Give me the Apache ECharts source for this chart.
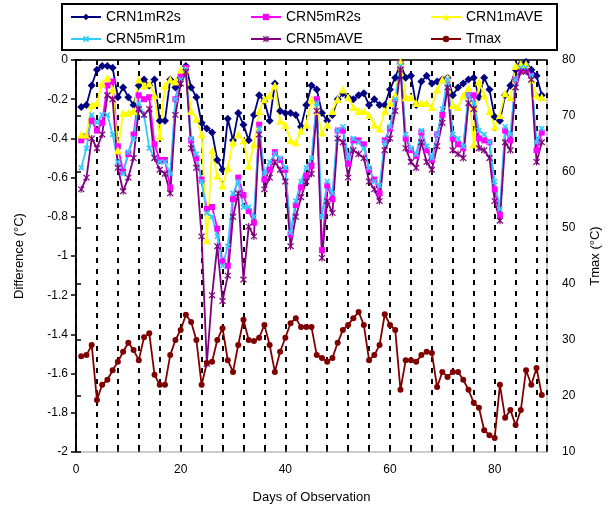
<!DOCTYPE html>
<html><head><meta charset="utf-8">
<script src="https://cdn.jsdelivr.net/npm/echarts@6/dist/echarts.min.js"></script>
<style>html,body{margin:0;padding:0;background:#fff}#c{width:610px;height:514px}</style>
</head><body><div id="c"></div>
<script>
var days = [1,2,3,4,5,6,7,8,9,10,11,12,13,14,15,16,17,18,19,20,21,22,23,24,25,26,27,28,29,30,31,32,33,34,35,36,37,38,39,40,41,42,43,44,45,46,47,48,49,50,51,52,53,54,55,56,57,58,59,60,61,62,63,64,65,66,67,68,69,70,71,72,73,74,75,76,77,78,79,80,81,82,83,84,85,86,87,88,89];
var crn1mR2s = [-0.24,-0.23,-0.13,-0.05,-0.03,-0.03,-0.04,-0.19,-0.14,-0.19,-0.23,-0.13,-0.10,-0.13,-0.10,-0.31,-0.31,-0.10,-0.14,-0.09,-0.03,-0.14,-0.19,-0.32,-0.35,-0.37,-0.51,-0.56,-0.30,-0.41,-0.27,-0.33,-0.41,-0.28,-0.18,-0.21,-0.31,-0.12,-0.26,-0.27,-0.27,-0.28,-0.34,-0.23,-0.13,-0.15,-0.27,-0.31,-0.28,-0.20,-0.17,-0.19,-0.20,-0.18,-0.17,-0.23,-0.20,-0.23,-0.23,-0.15,-0.09,-0.02,-0.09,-0.08,-0.23,-0.11,-0.08,-0.12,-0.11,-0.10,-0.09,-0.18,-0.14,-0.12,-0.10,-0.09,-0.19,-0.09,-0.15,-0.29,-0.31,-0.18,-0.13,-0.05,-0.02,-0.01,-0.05,-0.08,-0.18];
var crn5mR2s = [-0.41,-0.39,-0.31,-0.36,-0.32,-0.13,-0.11,-0.44,-0.57,-0.48,-0.38,-0.18,-0.20,-0.19,-0.43,-0.51,-0.51,-0.65,-0.20,-0.08,-0.04,-0.41,-0.50,-0.61,-0.76,-0.75,-0.86,-1.03,-1.05,-0.71,-0.60,-0.69,-0.77,-0.83,-0.33,-0.61,-0.56,-0.47,-0.51,-0.56,-0.89,-0.74,-0.65,-0.59,-0.54,-0.20,-0.97,-0.64,-0.71,-0.36,-0.36,-0.53,-0.41,-0.41,-0.43,-0.56,-0.61,-0.68,-0.41,-0.35,-0.20,-0.02,-0.40,-0.46,-0.49,-0.37,-0.46,-0.51,-0.38,-0.28,-0.10,-0.40,-0.43,-0.45,-0.18,-0.18,-0.40,-0.41,-0.42,-0.66,-0.79,-0.36,-0.41,-0.10,-0.05,-0.05,-0.08,-0.46,-0.37];
var crn1mAVE = [-0.38,-0.38,-0.23,-0.22,-0.12,-0.09,-0.15,-0.46,-0.27,-0.27,-0.26,-0.10,-0.13,-0.12,-0.18,-0.39,-0.13,-0.10,-0.11,-0.05,-0.05,-0.26,-0.30,-0.38,-0.92,-0.46,-0.59,-0.64,-0.55,-0.42,-0.38,-0.41,-0.54,-0.43,-0.26,-0.20,-0.18,-0.13,-0.31,-0.33,-0.41,-0.42,-0.36,-0.33,-0.20,-0.26,-0.37,-0.33,-0.26,-0.20,-0.15,-0.19,-0.24,-0.26,-0.26,-0.28,-0.33,-0.35,-0.26,-0.22,-0.18,-0.01,-0.19,-0.19,-0.22,-0.22,-0.22,-0.24,-0.15,-0.10,-0.09,-0.23,-0.24,-0.18,-0.14,-0.43,-0.11,-0.18,-0.26,-0.34,-0.28,-0.17,-0.19,-0.03,-0.02,-0.02,-0.10,-0.18,-0.19];
var crn5mR1m = [-0.55,-0.45,-0.28,-0.32,-0.28,-0.28,-0.38,-0.52,-0.58,-0.47,-0.40,-0.22,-0.28,-0.45,-0.50,-0.52,-0.52,-0.58,-0.20,-0.10,-0.05,-0.40,-0.48,-0.62,-0.78,-0.80,-0.90,-1.05,-0.95,-0.68,-0.62,-0.75,-0.75,-0.80,-0.35,-0.58,-0.52,-0.48,-0.50,-0.55,-0.88,-0.72,-0.62,-0.55,-0.50,-0.22,-0.80,-0.62,-0.68,-0.36,-0.34,-0.50,-0.40,-0.42,-0.45,-0.55,-0.62,-0.64,-0.42,-0.34,-0.20,-0.03,-0.38,-0.45,-0.48,-0.36,-0.44,-0.50,-0.38,-0.25,-0.10,-0.38,-0.40,-0.44,-0.18,-0.22,-0.36,-0.38,-0.42,-0.62,-0.76,-0.34,-0.38,-0.10,-0.04,-0.04,-0.08,-0.42,-0.35];
var crn5mAVE = [-0.66,-0.60,-0.40,-0.45,-0.38,-0.18,-0.20,-0.55,-0.67,-0.60,-0.50,-0.25,-0.28,-0.25,-0.50,-0.56,-0.58,-0.68,-0.28,-0.12,-0.06,-0.45,-0.55,-0.90,-1.55,-1.20,-0.95,-1.23,-1.10,-0.80,-0.68,-1.12,-0.85,-0.90,-0.38,-0.66,-0.60,-0.52,-0.56,-0.62,-0.95,-0.80,-0.70,-0.62,-0.58,-0.26,-1.01,-0.72,-0.78,-0.40,-0.42,-0.60,-0.46,-0.48,-0.50,-0.62,-0.66,-0.72,-0.46,-0.40,-0.26,-0.05,-0.45,-0.52,-0.55,-0.42,-0.52,-0.56,-0.44,-0.32,-0.14,-0.46,-0.48,-0.50,-0.22,-0.25,-0.45,-0.46,-0.50,-0.72,-0.82,-0.42,-0.46,-0.14,-0.06,-0.06,-0.10,-0.52,-0.42];
var tmax = [27.1,27.3,29.1,19.3,22.0,22.9,24.6,26.1,27.9,29.5,28.2,26.4,30.5,31.2,23.8,22.0,22.0,27.3,30.0,31.8,34.5,33.2,30.0,22.0,25.9,26.1,30.0,32.1,26.4,24.3,29.1,33.6,30.0,29.8,30.4,32.7,29.1,24.3,27.9,30.4,33.0,33.9,32.3,32.3,32.3,27.3,26.8,26.1,26.8,29.5,31.8,32.7,33.9,35.0,32.7,26.4,27.3,29.1,34.6,32.7,31.8,21.1,26.4,26.4,26.1,27.3,27.9,27.7,21.6,24.3,23.4,24.3,24.3,22.9,21.1,18.8,17.9,13.9,13.0,12.5,22.0,16.1,17.5,14.8,17.5,24.6,22.0,25.0,20.2];
var names = ['CRN1mR2s','CRN5mR2s','CRN1mAVE','CRN5mR1m','CRN5mAVE','Tmax'];
var xTicks = [0,20,40,60,80];

function pairs(arr){ return days.map(function(d,i){ return [d, arr[i]]; }); }
var xShape = 'path://M0,2L2,0L5,3L8,0L10,2L7,5L10,8L8,10L5,7L2,10L0,8L3,5Z';
var starShape = 'path://M4.2,0H5.8V10H4.2Z M0,1.6L1.4,0.4L5,4L8.6,0.4L10,1.6L6.2,5L10,8.4L8.6,9.6L5,6L1.4,9.6L0,8.4L3.8,5Z';
function ser(name, data, color, symbol, size, yi){
  return {name:name, type:'line', data:pairs(data), xAxisIndex:0, yAxisIndex:yi||0,
    symbol:symbol, symbolSize:size, lineStyle:{color:color, width:1.8},
    itemStyle:{color:color}, animation:false, z:2};
}
var chart = echarts.init(document.getElementById('c'), null, {renderer:'canvas'});
var legPos = [[70,10],[250,10],[430,10],[70,32],[250,32],[430,32]];
var legends = names.map(function(n,i){
  return {data:[n], left:legPos[i][0], top:legPos[i][1], padding:0, itemWidth:30, itemHeight:8, itemGap:5,
    textStyle:{fontFamily:'Liberation Sans, Arial', fontSize:14, color:'#000'}, selectedMode:false};
});
var ff = 'Liberation Sans, Arial';
chart.setOption({
  backgroundColor:'#fff',
  animation:false,
  legend: legends,
  graphic:[{type:'rect', shape:{x:62,y:4,width:495,height:46}, style:{fill:'none', stroke:'#000', lineWidth:2}, z:100}],
  grid:{left:76, right:61, top:60, bottom:62, show:true, borderColor:'#999', borderWidth:1},
  xAxis:[
    {type:'value', min:0, max:90, interval:20, position:'bottom',
     axisLine:{lineStyle:{color:'#000', width:1.5}},
     axisTick:{show:true, inside:false, length:5, lineStyle:{color:'#000', width:1.5}},
     axisLabel:{margin:12, fontFamily:ff, fontSize:12, color:'#000', formatter:function(v){ return xTicks.indexOf(v)>=0 ? String(v) : ''; }},
     splitLine:{show:false},
     name:'Days of Observation', nameLocation:'middle', nameGap:39, nameTextStyle:{fontFamily:ff, fontSize:13, color:'#000'}},
    {type:'value', min:0, max:90, interval:4, position:'bottom',
     axisLine:{show:false},
     axisTick:{show:true, inside:true, length:5, lineStyle:{color:'#000', width:1.5}},
     axisLabel:{show:false},
     splitLine:{show:true, lineStyle:{color:'#000', width:2, type:[5,6]}}}
  ],
  yAxis:[
    {type:'value', min:-2, max:0, interval:0.2, position:'left',
     axisLine:{show:true, lineStyle:{color:'#000', width:1.5}},
     axisTick:{show:true, inside:false, length:5, lineStyle:{color:'#000', width:1.5}},
     axisLabel:{margin:8, fontFamily:ff, fontSize:12, color:'#000'},
     splitLine:{show:false},
     name:'Difference (\u00B0C)', nameLocation:'middle', nameGap:50, nameTextStyle:{fontFamily:ff, fontSize:13, color:'#000'}},
    {type:'value', min:10, max:80, interval:10, position:'right',
     axisLine:{show:true, lineStyle:{color:'#000', width:1.5}},
     axisTick:{show:true, inside:false, length:5, lineStyle:{color:'#000', width:1.5}},
     axisLabel:{margin:15, fontFamily:ff, fontSize:12, color:'#000'},
     splitLine:{show:false},
     name:'Tmax (\u00B0C)', nameLocation:'middle', nameGap:42, nameRotate:90, nameTextStyle:{fontFamily:ff, fontSize:13, color:'#000'}}
  ],
  series:[
    ser('CRN1mR2s', crn1mR2s, '#000080', 'diamond', 8),
    ser('CRN5mR2s', crn5mR2s, '#FF00FF', 'rect', 6),
    ser('CRN1mAVE', crn1mAVE, '#FFFF00', 'triangle', 8),
    ser('CRN5mR1m', crn5mR1m, '#33CCFF', xShape, 6),
    ser('CRN5mAVE', crn5mAVE, '#800080', starShape, 7),
    ser('Tmax', tmax, '#800000', 'circle', 6, 1)
  ]
});
</script></body></html>
